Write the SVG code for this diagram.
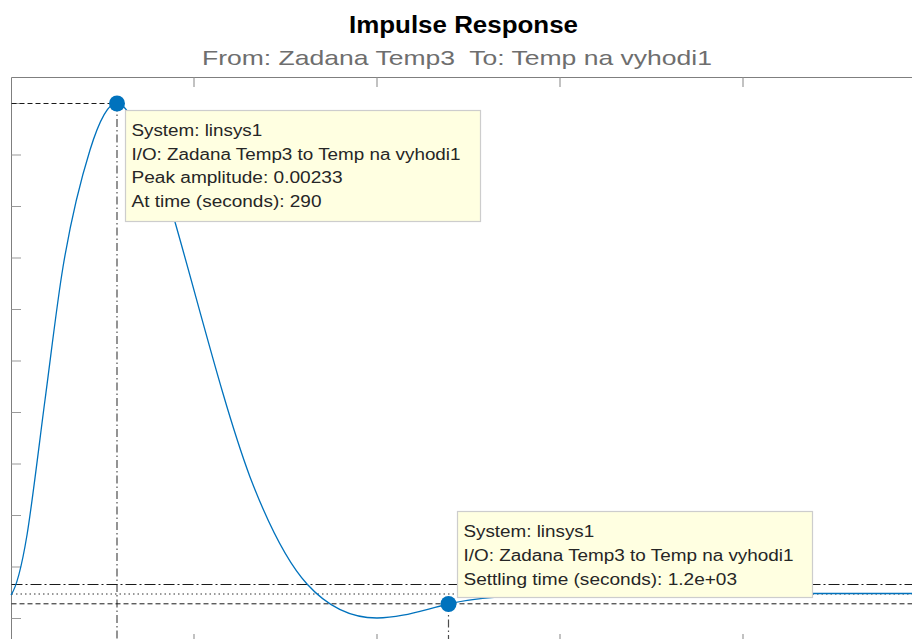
<svg xmlns="http://www.w3.org/2000/svg" width="912" height="639" viewBox="0 0 912 639">
  <style>
    .axis { stroke: #7f7f7f; stroke-width: 1; fill: none; }
    .tick { stroke: #9a9a9a; stroke-width: 1.2; fill: none; }
    .dash { stroke: #1a1a1a; stroke-width: 1; stroke-dasharray: 5 3; fill: none; }
    .dashdot { stroke: #1a1a1a; stroke-width: 1; stroke-dasharray: 11 3 2 3; fill: none; }
    .dot { stroke: #333333; stroke-width: 1; stroke-dasharray: 1.5 3; fill: none; }
    .vguide { stroke: #4d4d4d; stroke-width: 1.2; stroke-dasharray: 8 3 1.5 3; fill: none; }
    .curve { stroke: #0072BD; stroke-width: 1.3; fill: none; }
    .marker { fill: #0072BD; }
    .tip { fill: #FFFFE1; stroke: #cdcdcd; stroke-width: 1.2; }
    .tiptext { font-family: "Liberation Sans", Arial, sans-serif; font-size: 16px; fill: #262626; }
    .title { font-family: "Liberation Sans", Arial, sans-serif; font-size: 23px; font-weight: bold; fill: #000000; }
    .subtitle { font-family: "Liberation Sans", Arial, sans-serif; font-size: 21px; fill: #6e6e6e; white-space: pre; }
  </style>

  <rect x="0" y="0" width="912" height="639" fill="#ffffff"/>

  <!-- titles -->
  <g id="titles">
    <text class="title" x="349" y="33.3" textLength="229" lengthAdjust="spacingAndGlyphs">Impulse Response</text>
    <text class="subtitle" x="202" y="65.3" textLength="510" lengthAdjust="spacingAndGlyphs" xml:space="preserve">From: Zadana Temp3  To: Temp na vyhodi1</text>
  </g>

  <!-- axes frame and ticks -->
  <g id="axes">
    <path class="axis" d="M11.5,639 V77.5 H912"/>
    <path class="tick" d="M194,77.5 V87 M377,77.5 V87 M560,77.5 V87 M743,77.5 V87"/>
    <path class="tick" d="M194,634 V639 M377,634 V639 M560,634 V639 M743,634 V639"/>
    <path class="tick" d="M11.5,103.5 H21 M11.5,155 H21 M11.5,206.5 H21 M11.5,258 H21 M11.5,309.5 H21 M11.5,361 H21 M11.5,412.5 H21 M11.5,464 H21 M11.5,515.5 H21 M11.5,567 H21 M11.5,618.5 H21"/>
  </g>

  <!-- characteristic guide lines -->
  <g id="connectors">
    <path class="dash" d="M11.5,103.5 H117"/>
    <path class="vguide" d="M117,103.5 V639"/>
    <path class="dashdot" d="M11.5,584.5 H912"/>
    <path class="dot" d="M11.5,594 H912"/>
    <path class="dash" d="M11.5,603.8 H912"/>
    <path class="vguide" d="M448.5,604 V639"/>
  </g>

  <!-- impulse response trace -->
  <g id="response">
    <path class="curve" d="M11,595 C16,588 22,565 27,535 C32,505 40,437.5 45,400 C51,355 57,303 63,267 C72,213 81,179 90,150 C99,121 108,103 117,103 C130,103 160,169.5 175,222 C200,309.5 225,409.5 250,477 C269,526.4 288,563.1 307,584 C330.3,609.7 353.7,618 377,618 C401,618 425,609.3 449,604 C480,596.3 540,593.8 600,593.5 L912,593.5"/>
  </g>

  <!-- peak response datatip -->
  <g id="peak">
    <circle class="marker" cx="117" cy="103.5" r="8"/>
    <rect class="tip" x="125.5" y="110.5" width="355" height="111"/>
    <text class="tiptext" x="131.5" y="135.7" textLength="130.7" lengthAdjust="spacingAndGlyphs">System: linsys1</text>
    <text class="tiptext" x="131.5" y="159.7" textLength="329" lengthAdjust="spacingAndGlyphs">I/O: Zadana Temp3 to Temp na vyhodi1</text>
    <text class="tiptext" x="131.5" y="183.2" textLength="211" lengthAdjust="spacingAndGlyphs">Peak amplitude: 0.00233</text>
    <text class="tiptext" x="131.5" y="206.7" textLength="190" lengthAdjust="spacingAndGlyphs">At time (seconds): 290</text>
  </g>

  <!-- settling time datatip -->
  <g id="settling">
    <circle class="marker" cx="448.5" cy="604" r="8"/>
    <rect class="tip" x="457.5" y="511.5" width="355" height="86"/>
    <text class="tiptext" x="463.5" y="536.7" textLength="130.7" lengthAdjust="spacingAndGlyphs">System: linsys1</text>
    <text class="tiptext" x="463.5" y="561.2" textLength="330" lengthAdjust="spacingAndGlyphs">I/O: Zadana Temp3 to Temp na vyhodi1</text>
    <text class="tiptext" x="463.5" y="585.2" textLength="273.5" lengthAdjust="spacingAndGlyphs">Settling time (seconds): 1.2e+03</text>
  </g>
</svg>
